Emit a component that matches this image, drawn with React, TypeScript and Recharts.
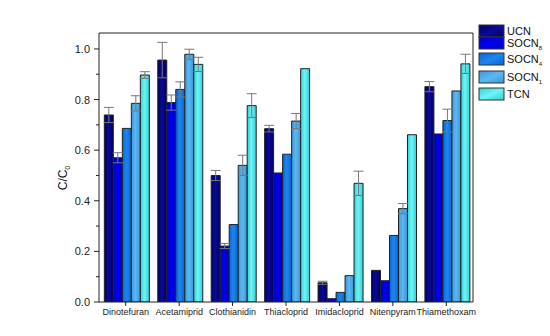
import React from 'react';
import { BarChart, Bar, XAxis, YAxis, ErrorBar, CartesianGrid } from 'recharts';

const categories = ['Dinotefuran', 'Acetamiprid', 'Clothianidin', 'Thiacloprid', 'Imidacloprid', 'Nitenpyram', 'Thiamethoxam'];

const ucn = [0.739, 0.956, 0.5, 0.685, 0.076, 0.125, 0.851];
const ucnErr = [0.03, 0.07, 0.02, 0.013, 0.006, 0, 0.02];
const socn8 = [0.57, 0.788, 0.221, 0.51, 0.013, 0.084, 0.664];
const socn8Err = [0.02, 0.03, 0.01, 0, 0, 0, 0];
const socn4 = [0.686, 0.84, 0.306, 0.584, 0.038, 0.263, 0.717];
const socn4Err = [0, 0.03, 0, 0, 0, 0, 0.045];
const socn1 = [0.785, 0.979, 0.54, 0.715, 0.104, 0.369, 0.834];
const socn1Err = [0.03, 0.02, 0.04, 0.03, 0, 0.02, 0];
const tcn = [0.897, 0.939, 0.776, 0.922, 0.469, 0.661, 0.941];
const tcnErr = [0.013, 0.028, 0.047, 0, 0.048, 0, 0.038];

const yTicks = [0, 0.1, 0.2, 0.3, 0.4, 0.5, 0.6, 0.7, 0.8, 0.9, 1.0];

const data = categories.map((name, i) => ({
  name,
  ucn: ucn[i], ucnErr: ucnErr[i],
  socn8: socn8[i], socn8Err: socn8Err[i],
  socn4: socn4[i], socn4Err: socn4Err[i],
  socn1: socn1[i], socn1Err: socn1Err[i],
  tcn: tcn[i], tcnErr: tcnErr[i],
}));

const series = [
  { key: 'ucn', label: 'UCN', sub: '', dark: '#000060', base: '#0a0a9a' },
  { key: 'socn8', label: 'SOCN', sub: '8', dark: '#0000c0', base: '#0000f0' },
  { key: 'socn4', label: 'SOCN', sub: '4', dark: '#0a66d0', base: '#1a86f2' },
  { key: 'socn1', label: 'SOCN', sub: '1', dark: '#3c96d8', base: '#5ab8f2' },
  { key: 'tcn', label: 'TCN', sub: '', dark: '#30d0d8', base: '#6ef4f4' },
];

const font = 'Arial, "Liberation Sans", sans-serif';

const YTick = (props: any) => {
  const { x, y, payload } = props;
  const major = Math.round(payload.value * 10) % 2 === 0;
  return (
    <g>
      <line x1={x} x2={x - (major ? 5 : 3)} y1={y} y2={y} stroke="#222" />
      {major && (
        <text x={x - 9} y={y} dy={4} textAnchor="end" fontSize={11} fill="#222" fontFamily={font}>
          {payload.value.toFixed(1)}
        </text>
      )}
    </g>
  );
};

// legend drawn beside the plot, like the original figure
const LegendBox = () => {
  const tops = [25, 37, 53, 71, 88];
  return (
    <svg width={72} height={110} style={{ position: 'absolute', left: 478, top: 0 }}>
      <defs>
        {series.map((s) => (
          <linearGradient key={s.key} id={`lg-${s.key}`} x1="0" y1="0" x2="1" y2="1">
            <stop offset="0%" stopColor={s.dark} />
            <stop offset="50%" stopColor={s.base} />
            <stop offset="100%" stopColor={s.dark} />
          </linearGradient>
        ))}
      </defs>
      {series.map((s, i) => (
        <g key={s.key}>
          <rect x={1} y={tops[i]} width={25} height={12} fill={`url(#lg-${s.key})`} stroke="#333" />
          <text x={29} y={tops[i] + 10} fontSize={11} fill="#111" fontFamily={font}>
            {s.label}
            {s.sub && <tspan fontSize={6} dy={3}>{s.sub}</tspan>}
          </text>
        </g>
      ))}
    </svg>
  );
};

const YLabel = (props: any) => {
  const { viewBox } = props;
  const cx = viewBox.x + 67;
  const cy = 178;
  return (
    <text transform={`translate(${cx},${cy}) rotate(-90)`} textAnchor="middle" fontSize={12} fill="#111" fontFamily={font}>
      C/C<tspan fontSize={7} dy={3}>0</tspan>
    </text>
  );
};

export default function App() {
  return (
    <div style={{ position: 'absolute', left: 0, top: 0, width: 550, height: 336, background: '#fff' }}>
      <BarChart
        width={550}
        height={336}
        data={data}
        margin={{ top: 33, right: 77, bottom: 4, left: 0 }}
        barCategoryGap="10%"
        barGap={0}
      >
        <defs>
          {series.map((s) => (
            <linearGradient key={s.key} id={`g-${s.key}`} x1="0" y1="0" x2="1" y2="0">
              <stop offset="0%" stopColor={s.dark} />
              <stop offset="45%" stopColor={s.base} />
              <stop offset="100%" stopColor={s.dark} />
            </linearGradient>
          ))}
        </defs>
        {/* top and right frame lines */}
        <CartesianGrid
          xAxisId="main"
          yAxisId="main"
          stroke="#222"
          horizontalCoordinatesGenerator={({ offset }: any) => [offset.top]}
          verticalCoordinatesGenerator={({ offset }: any) => [offset.left + offset.width]}
        />
        <XAxis
          dataKey="name"
          xAxisId="main"
          height={30}
          stroke="#222"
          tickSize={4}
          tickMargin={3}
          interval={0}
          tick={{ fontSize: 9, fill: '#222', fontFamily: font }}
        />
        <YAxis
          yAxisId="main"
          width={99}
          domain={[0, 1.063]}
          ticks={yTicks}
          allowDataOverflow
          stroke="#222"
          tickLine={false}
          tickSize={0}
          tickMargin={0}
          tick={<YTick />}
          label={<YLabel />}
        />
        {series.map((s) => (
          <Bar
            key={s.key}
            dataKey={s.key}
            xAxisId="main"
            yAxisId="main"
            fill={`url(#g-${s.key})`}
            stroke="#222"
            strokeWidth={1}
            isAnimationActive={false}
          >
            <ErrorBar dataKey={`${s.key}Err`} width={5} stroke="#777" strokeWidth={1} />
          </Bar>
        ))}
      </BarChart>
      <LegendBox />
    </div>
  );
}
